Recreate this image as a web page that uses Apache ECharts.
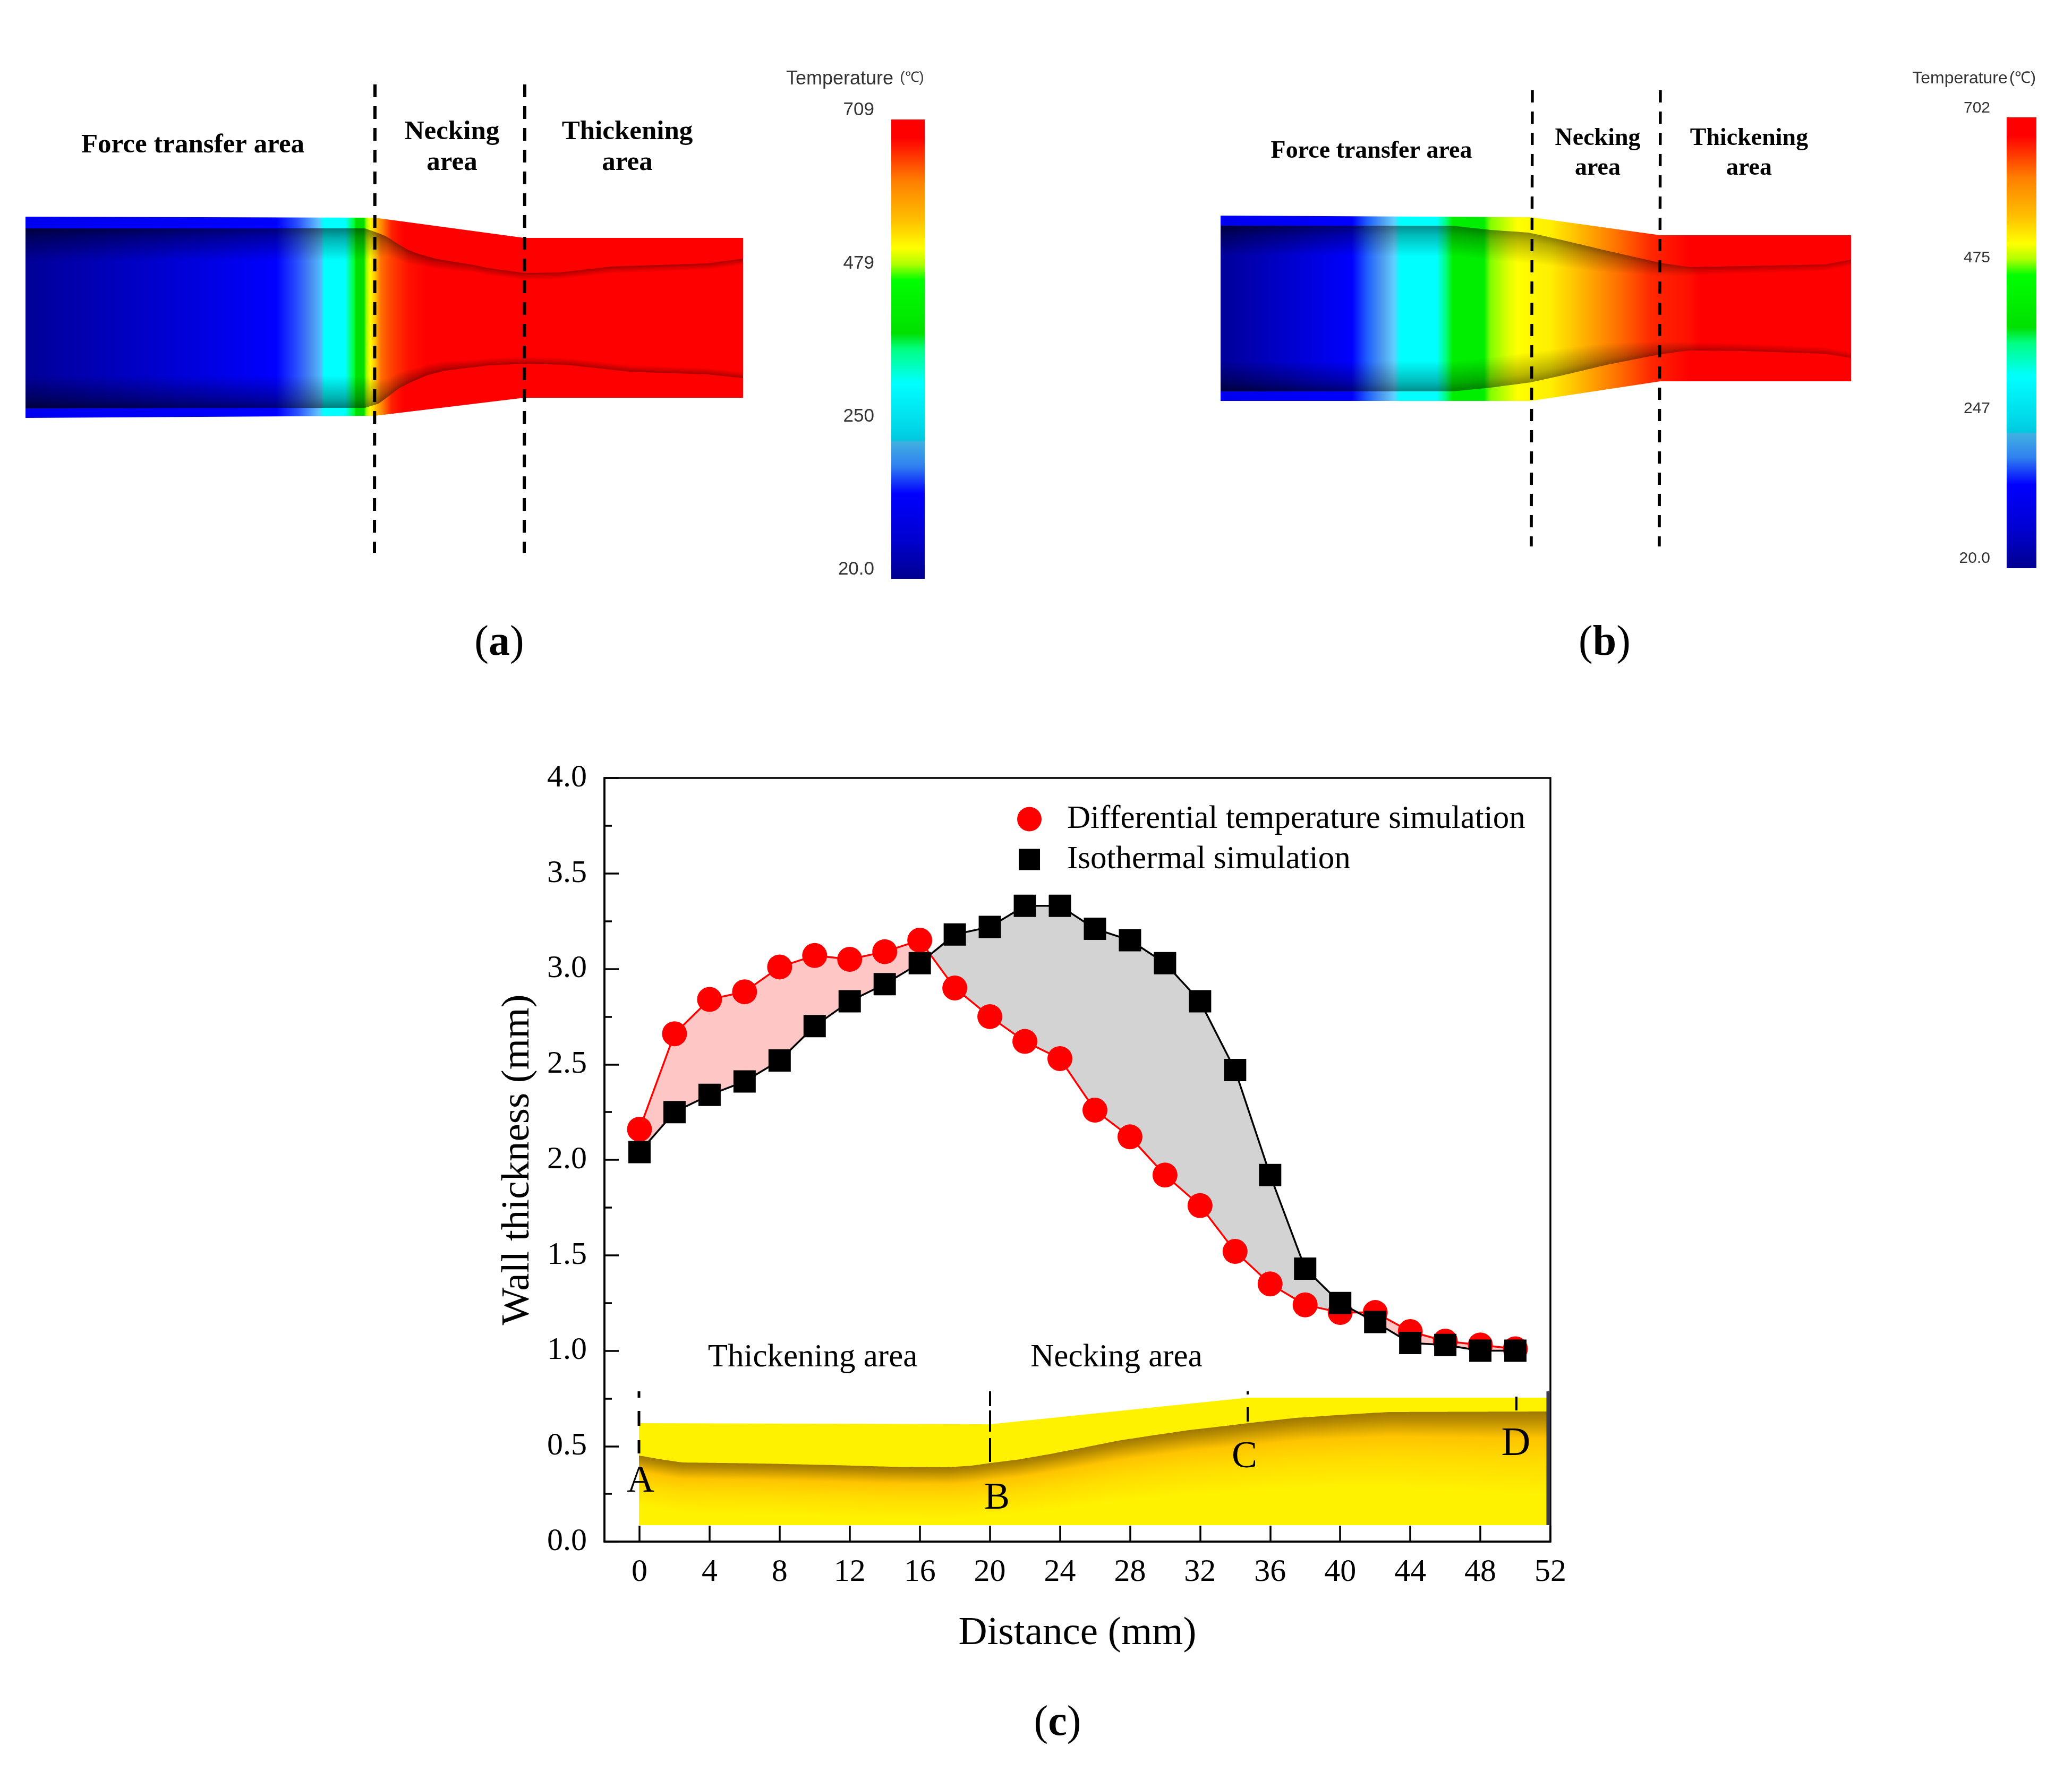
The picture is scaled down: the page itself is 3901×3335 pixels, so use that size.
<!DOCTYPE html>
<html>
<head>
<meta charset="utf-8">
<style>html,body{margin:0;padding:0;background:#fff}#c{width:3901px;height:3335px}</style>
<script src="https://cdn.jsdelivr.net/npm/echarts@6/dist/echarts.min.js"></script>
</head>
<body>
<div id="c"></div>
<script>
// ---- Chart (c) values
const distance = [0,2,4,6,8,10,12,14,16,18,20,22,24,26,28,30,32,34,36,38,40,42,44,46,48,50];
const differential = [2.16,2.66,2.84,2.88,3.01,3.07,3.05,3.09,3.15,2.90,2.75,2.62,2.53,2.26,2.12,1.92,1.76,1.52,1.35,1.24,1.20,1.20,1.10,1.05,1.03,1.01];
const isothermal = [2.04,2.25,2.34,2.41,2.52,2.70,2.83,2.92,3.03,3.18,3.22,3.33,3.33,3.21,3.15,3.03,2.83,2.47,1.92,1.43,1.25,1.15,1.04,1.03,1.00,1.00];
const xTicks = [0,4,8,12,16,20,24,28,32,36,40,44,48,52];
const seriesNames = ['Differential temperature simulation','Isothermal simulation'];

// ---- Inset section shown in chart (c), in figure coordinates
const insetOuterX = [1203,1865,2349,2380,2913];
const insetOuterTop = [2680,2682,2632,2632,2632];
const insetLineX = [1203,1250,1284,1360,1436,1570,1677,1784,1830,1865,1920,1972,2040,2105,2170,2239,2300,2349,2440,2530,2614,2913];
const insetLineY = [2741,2749,2754,2755,2756,2759,2762,2763,2760,2755,2748,2739,2726,2713,2703,2693,2686,2680,2670,2664,2659,2658];
const insetDepthX = [1203,1865,2349,2913];
const insetDepth = [95,100,130,160];

// ---- Simulated section (a)
const aOuterX = [48,706,987,1399];
const aOuterTop = [408,410,448,448];
const aOuterBot = [787,783,749,749];
const aInTopX = [48,687,707,727,747,767,787,820,853,887,920,987,1054,1151,1333,1399];
const aInTopY = [430,430,437,445,458,470,478,487,493,498,505,514,513,502,496,487];
const aInBotX = [48,687,713,733,753,773,803,837,887,920,987,1066,1187,1333,1399];
const aInBotY = [769,768,760,745,730,720,707,698,692,688,685,687,700,705,712];
const aShadeX = [48,560,690,730,790,900,1399];
const aShadeA = [.62,.52,.5,.45,.4,.35,.35];
const aShadeD = [62,62,60,35,22,14,12];
const aBodyStops = [[48,'#000098'],[520,'#0000ff'],[560,'#2a50ff'],[587,'#4a90f0'],[605,'#50c0ff'],[610,'#00ffff'],[650,'#00ffff'],[667,'#00ff30'],[670,'#00e000'],[685,'#00e000'],[690,'#a0ff00'],[697,'#ffff00'],[707,'#ffc000'],[717,'#ff7000'],[737,'#ff4000'],[770,'#ff1000'],[803,'#ff0000'],[1399,'#ff0000']];
const aSkinStops = [[48,'#0000f0'],[520,'#0000ff'],[560,'#2a50ff'],[600,'#60c0ff'],[610,'#00ffff'],[650,'#00ffff'],[667,'#00ff30'],[670,'#00e000'],[685,'#00e000'],[690,'#a0ff00'],[697,'#ffff00'],[707,'#ffc000'],[720,'#ff8000'],[737,'#ff2000'],[760,'#ff0000'],[1399,'#ff0000']];

// ---- Simulated section (b)
const bOuterX = [2298,2882,3126,3485];
const bOuterTop = [406,409,443,443];
const bOuterBot = [755,755,718,718];
const bInTopX = [2298,2735,2806,2878,2941,3025,3126,3180,3284,3436,3485];
const bInTopY = [425,425,433,438,452,472,495,503,501,498,489];
const bInBotX = [2298,2735,2806,2882,2941,3025,3126,3180,3284,3436,3485];
const bInBotY = [737,737,730,720,707,687,667,660,661,666,674];
const bShadeX = [2298,2550,2620,2880,3000,3125,3180,3485];
const bShadeA = [.62,.52,.45,.45,.45,.4,.33,.3];
const bShadeD = [58,58,58,58,45,25,16,12];
const bBodyStops = [[2298,'#000098'],[2545,'#0000ff'],[2575,'#2060ff'],[2604,'#50a0f0'],[2625,'#60d0ff'],[2636,'#00ffff'],[2705,'#00ffff'],[2722,'#00ff80'],[2735,'#00ef00'],[2794,'#00ef00'],[2806,'#80ff00'],[2840,'#e0ff00'],[2857,'#ffff00'],[2920,'#ffee00'],[2983,'#ffb000'],[3046,'#ff7000'],[3109,'#ff2800'],[3180,'#ff1000'],[3200,'#ff0000'],[3485,'#ff0000']];
const bSkinStops = [[2298,'#0000f0'],[2545,'#0000ff'],[2575,'#2060ff'],[2604,'#50a0f0'],[2625,'#60d0ff'],[2636,'#00ffff'],[2705,'#00ffff'],[2722,'#00ff80'],[2735,'#00ef00'],[2794,'#00ef00'],[2806,'#80ff00'],[2857,'#ffff00'],[2920,'#ffee00'],[2983,'#ffb000'],[3046,'#ff7000'],[3109,'#ff2800'],[3180,'#ff0000'],[3485,'#ff0000']];

// ---- Temperature colour bars (fraction from the top)
const barStops = [[0,'#ff0000'],[.04,'#ff0000'],[.135,'#ff8000'],[.22,'#ffc000'],[.28,'#ffff00'],[.315,'#b0ff00'],[.35,'#00ff00'],[.465,'#00e000'],[.5,'#00ff80'],[.575,'#00ffff'],[.67,'#00d8e8'],[.698,'#00c8e0'],[.702,'#40b0e0'],[.755,'#3080f0'],[.815,'#0000ff'],[.915,'#0000d0'],[1,'#000090']];
const aTicks = ['709','479','250','20.0'];
const bTicks = ['702','475','247','20.0'];

// ---- Dashed section boundaries, figure coordinates
const dashSets = [
  {pts:[[706,159],[705,1041]],w:6,d:[24,17]},
  {pts:[[988,159],[987,1041]],w:6,d:[24,17]},
  {pts:[[2885,170],[2883,1029]],w:5.5,d:[23,17]},
  {pts:[[3126,170],[3124,1029]],w:5.5,d:[23,17]},
  {pts:[[1203,2620],[1203,2737]],w:5,d:[12,25,28,27,25,100]},
  {pts:[[1864,2620],[1864,2753]],w:4,d:[28,8,40,12,45,100]},
  {pts:[[2349,2620],[2349,2677]],w:4,d:[6,24,30,100]},
  {pts:[[2855,2630],[2855,2656]],w:4,d:[30,100]}
];

const SERIF = '"Liberation Serif","Times New Roman",serif';
const SANS = '"Liberation Sans",Arial,sans-serif';

function lerp(xs,ys,x){
  if(x<=xs[0])return ys[0];
  for(let i=1;i<xs.length;i++){ if(x<=xs[i]){const t=(x-xs[i-1])/(xs[i]-xs[i-1]);return ys[i-1]+t*(ys[i]-ys[i-1]);}}
  return ys[ys.length-1];
}
function hGrad(stops,x0,x1,api){
  const a=api.coord([x0,0])[0],b=api.coord([x1,0])[0];
  return new echarts.graphic.LinearGradient(a,0,b,0,stops.map(s=>({offset:(s[0]-x0)/(x1-x0),color:s[1]})),true);
}
function poly(points,fill){return {type:'polygon',shape:{points},style:{fill},silent:true};}

function renderPanel(p){
  return function(params,api){
    const ch=[];
    const C=(x,y)=>api.coord([x,y]);
    const outer=[];
    p.ox.forEach((x,i)=>outer.push(C(x,p.ot[i])));
    for(let i=p.ox.length-1;i>=0;i--)outer.push(C(p.ox[i],p.ob[i]));
    ch.push(poly(outer,hGrad(p.skin,p.ox[0],p.ox[p.ox.length-1],api)));
    const inner=[];
    p.itx.forEach((x,i)=>inner.push(C(x,p.ity[i])));
    for(let i=p.ibx.length-1;i>=0;i--)inner.push(C(p.ibx[i],p.iby[i]));
    ch.push(poly(inner,hGrad(p.body,p.ox[0],p.ox[p.ox.length-1],api)));
    const step=4,x1=p.ox[p.ox.length-1];
    for(let x=p.ox[0];x<x1;x+=step){
      const xn=Math.min(x+step,x1),a=lerp(p.sx,p.sa,x),d=lerp(p.sx,p.sd,x);
      [[p.itx,p.ity,1],[p.ibx,p.iby,-1]].forEach(([xs,ys,s])=>{
        const y0=lerp(xs,ys,x),y1=lerp(xs,ys,xn);
        const q0=C(x,y0),q1=C(xn,y1),q2=C(xn,y1+s*d),q3=C(x,y0+s*d);
        const ym=(q0[1]+q1[1])/2;
        const g=new echarts.graphic.LinearGradient(0,ym,0,ym+s*d,[
          {offset:0,color:'rgba(0,0,0,'+a+')'},
          {offset:.3,color:'rgba(0,0,0,'+(a*.6)+')'},
          {offset:1,color:'rgba(0,0,0,0)'}],true);
        ch.push(poly([q0,q1,q2,q3],g));
      });
    }
    return {type:'group',children:ch};
  };
}
function renderInset(params,api){
  const ch=[],C=(x,y)=>api.coord([x,y]);
  const bottom=2872,x0=insetOuterX[0],x1=insetOuterX[insetOuterX.length-1];
  const out=insetOuterX.map((x,i)=>C(x,insetOuterTop[i]));
  out.push(C(x1,bottom),C(x0,bottom));
  ch.push(poly(out,'#fff200'));
  for(let x=x0;x<x1;x+=4){
    const xn=Math.min(x+4,x1),y0=lerp(insetLineX,insetLineY,x),y1=lerp(insetLineX,insetLineY,xn);
    const d=lerp(insetDepthX,insetDepth,x),ym=(y0+y1)/2;
    const g=new echarts.graphic.LinearGradient(0,C(0,ym)[1],0,C(0,ym+d)[1],[
      {offset:0,color:'#a07800'},{offset:.1,color:'#b88c00'},{offset:.32,color:'#ffc400'},{offset:.6,color:'#ffdc00'},{offset:1,color:'#fff200'}],true);
    ch.push(poly([C(x,y0),C(xn,y1),C(xn,ym+d),C(x,ym+d)],g));
  }
  return {type:'group',children:ch};
}
function renderBar(x0,x1,y0,y1){
  return function(params,api){
    const a=api.coord([x0,y0]),b=api.coord([x1,y1]);
    const g=new echarts.graphic.LinearGradient(0,a[1],0,b[1],barStops.map(s=>({offset:s[0],color:s[1]})),true);
    return {type:'rect',shape:{x:a[0],y:a[1],width:b[0]-a[0],height:b[1]-a[1]},style:{fill:g},silent:true};
  };
}
function renderFill(params,api){
  const i=params.dataIndex;
  if(i>=distance.length-1)return null;
  const C=(x,y)=>api.coord([x,y]);
  const x0=distance[i],x1=distance[i+1],r0=differential[i],r1=differential[i+1],k0=isothermal[i],k1=isothermal[i+1];
  const col=(r,k)=>r>=k?'#ffc6c6':'#d3d3d3';
  const d0=r0-k0,d1=r1-k1;
  const shapes=[];
  const mk=(pts,c)=>({type:'polygon',shape:{points:pts},style:{fill:c,stroke:c,lineWidth:1},silent:true});
  if(d0*d1<0){
    const t=d0/(d0-d1),xc=x0+t*(x1-x0),yc=r0+t*(r1-r0);
    shapes.push(mk([C(x0,r0),C(xc,yc),C(x0,k0)],col(r0,k0)));
    shapes.push(mk([C(xc,yc),C(x1,r1),C(x1,k1)],col(r1,k1)));
  }else{
    shapes.push(mk([C(x0,r0),C(x1,r1),C(x1,k1),C(x0,k0)],col(r0+r1,k0+k1)));
  }
  return {type:'group',children:shapes};
}

function txt(text,x,y,font,extra){
  return Object.assign({type:'text',x,y,z:100,silent:true,style:Object.assign({text,font,fill:'#000',textAlign:'center',textVerticalAlign:'middle'},extra||{})},{});
}
function caption(letter,x,y){
  return {type:'text',x,y,z:100,silent:true,style:{text:'{n|(}{b|'+letter+'}{n|)}',textAlign:'center',textVerticalAlign:'middle',
    rich:{n:{font:'80px '+SERIF,fill:'#000'},b:{font:'bold 80px '+SERIF,fill:'#000'}}}};
}
const labelBold=s=>'bold '+s+'px '+SERIF;
const barTickY = {a:[207,496,784,1072],b:[204,486,770,1052]};
const texts=[
  txt('Force transfer area',363,274,labelBold(51)),
  txt('Necking',851,249,labelBold(51)),txt('area',851,307,labelBold(51)),
  txt('Thickening',1181,249,labelBold(51)),txt('area',1181,307,labelBold(51)),
  txt('Force transfer area',2582,285,labelBold(46)),
  txt('Necking',3008,261,labelBold(46)),txt('area',3008,317,labelBold(46)),
  txt('Thickening',3293,261,labelBold(46)),txt('area',3293,317,labelBold(46)),
  txt('Temperature',1581,149,'36px '+SANS,{fill:'#333'}),txt('(℃)',1717,147,'27px '+SANS,{fill:'#333'}),
  txt('Temperature',3690,148,'32px '+SANS,{fill:'#333'}),txt('(℃)',3808,148,'30px '+SANS,{fill:'#333'}),
  caption('a',940,1212),caption('b',3021,1212),caption('c',1991,3246),
  txt('Thickening area',1530,2557,'61px '+SERIF),txt('Necking area',2102,2557,'61px '+SERIF),
  txt('A',1206,2790,'72px '+SERIF),txt('B',1877,2822,'72px '+SERIF),txt('C',2343,2744,'72px '+SERIF),txt('D',2854,2720,'76px '+SERIF)
];
aTicks.forEach((t,i)=>texts.push(txt(t,1646,barTickY.a[i],'35px '+SANS,{fill:'#333',textAlign:'right'})));
bTicks.forEach((t,i)=>texts.push(txt(t,3747,barTickY.b[i],'30px '+SANS,{fill:'#333',textAlign:'right'})));

const FIG={xAxisIndex:1,yAxisIndex:1,coordinateSystem:'cartesian2d',silent:true,clip:false};
const panelA={ox:aOuterX,ot:aOuterTop,ob:aOuterBot,itx:aInTopX,ity:aInTopY,ibx:aInBotX,iby:aInBotY,sx:aShadeX,sa:aShadeA,sd:aShadeD,body:aBodyStops,skin:aSkinStops};
const panelB={ox:bOuterX,ot:bOuterTop,ob:bOuterBot,itx:bInTopX,ity:bInTopY,ibx:bInBotX,iby:bInBotY,sx:bShadeX,sa:bShadeA,sd:bShadeD,body:bBodyStops,skin:bSkinStops};

const axisLine={lineStyle:{color:'#000',width:3.5}};
const series=[
  Object.assign({type:'custom',z:1,data:[[0,0]],renderItem:renderPanel(panelA)},FIG),
  Object.assign({type:'custom',z:1,data:[[0,0]],renderItem:renderPanel(panelB)},FIG),
  Object.assign({type:'custom',z:1,data:[[0,0]],renderItem:renderBar(1678,1741,225,1090)},FIG),
  Object.assign({type:'custom',z:1,data:[[0,0]],renderItem:renderBar(3778,3834,221,1070)},FIG),
  Object.assign({type:'custom',z:1,data:[[0,0]],renderItem:renderInset},FIG),
  {type:'custom',z:2,coordinateSystem:'cartesian2d',xAxisIndex:0,yAxisIndex:0,silent:true,data:distance.map((d,i)=>[d,differential[i]]),renderItem:renderFill},
  {type:'line',name:seriesNames[0],z:3,xAxisIndex:0,yAxisIndex:0,data:distance.map((d,i)=>[d,differential[i]]),symbol:'circle',symbolSize:47,lineStyle:{color:'#f00',width:3.5},itemStyle:{color:'#f00'},silent:true},
  {type:'line',name:seriesNames[1],z:4,xAxisIndex:0,yAxisIndex:0,data:distance.map((d,i)=>[d,isothermal[i]]),symbol:'rect',symbolSize:42,lineStyle:{color:'#000',width:3.5},itemStyle:{color:'#000'},silent:true},
  {type:'line',z:2,xAxisIndex:1,yAxisIndex:1,showSymbol:false,symbol:'none',silent:true,data:[[2915,2620],[2915,2872]],lineStyle:{color:'#3a3a48',width:7}}
];
dashSets.forEach(s=>series.push({type:'line',z:5,xAxisIndex:1,yAxisIndex:1,symbol:'none',silent:true,data:s.pts,lineStyle:{color:'#000',width:s.w,type:s.d}}));

const option={
  animation:false,
  backgroundColor:'#fff',
  textStyle:{fontFamily:SERIF},
  grid:[
    {left:1138,top:1465,width:1781,height:1438,show:true,borderColor:'#000',borderWidth:3.5,backgroundColor:'transparent',containLabel:false},
    {left:0,top:0,width:3901,height:3335,show:false,containLabel:false}
  ],
  xAxis:[
    {type:'value',gridIndex:0,min:-2,max:52,name:'Distance (mm)',nameLocation:'middle',nameGap:136,
     nameTextStyle:{fontFamily:SERIF,fontSize:75,color:'#000'},
     axisLine:Object.assign({onZero:false},axisLine),
     axisTick:{inside:true,length:30,customValues:xTicks,lineStyle:{color:'#000',width:3.5}},
     axisLabel:{customValues:xTicks,margin:28,fontFamily:SERIF,fontSize:60,color:'#000',hideOverlap:false,showMinLabel:true,showMaxLabel:true},
     splitLine:{show:false},minorTick:{show:false}},
    {type:'value',gridIndex:1,min:0,max:3901,show:false,splitLine:{show:false}}
  ],
  yAxis:[
    {type:'value',gridIndex:0,min:0,max:4,interval:.5,name:'Wall thickness (mm)',nameLocation:'middle',nameGap:125,
     nameTextStyle:{fontFamily:SERIF,fontSize:75,color:'#000'},
     axisLine:Object.assign({show:true,onZero:false},axisLine),
     axisTick:{show:true,inside:true,length:27,lineStyle:{color:'#000',width:3.5}},
     minorTick:{show:true,splitNumber:2,length:14,lineStyle:{color:'#000',width:3.5}},
     axisLabel:{margin:33,fontFamily:SERIF,fontSize:60,color:'#000',formatter:v=>v.toFixed(1)},
     splitLine:{show:false},minorSplitLine:{show:false}},
    {type:'value',gridIndex:1,min:0,max:3335,inverse:true,show:false,splitLine:{show:false}}
  ],
  legend:[
    {left:1915,top:1512,padding:0,itemWidth:46,itemHeight:46,selectedMode:false,textStyle:{fontFamily:SERIF,fontSize:61,color:'#000',padding:[0,0,0,43]},data:[{name:seriesNames[0],icon:'circle'}]},
    {left:1918,top:1588,padding:0,itemWidth:40,itemHeight:40,selectedMode:false,textStyle:{fontFamily:SERIF,fontSize:61,color:'#000',padding:[0,0,0,46]},data:[{name:seriesNames[1],icon:'rect'}]}
  ],
  graphic:{elements:texts},
  series
};
const chart=echarts.init(document.getElementById('c'),null,{renderer:'canvas',width:3901,height:3335});
chart.setOption(option);
</script>
</body>
</html>
